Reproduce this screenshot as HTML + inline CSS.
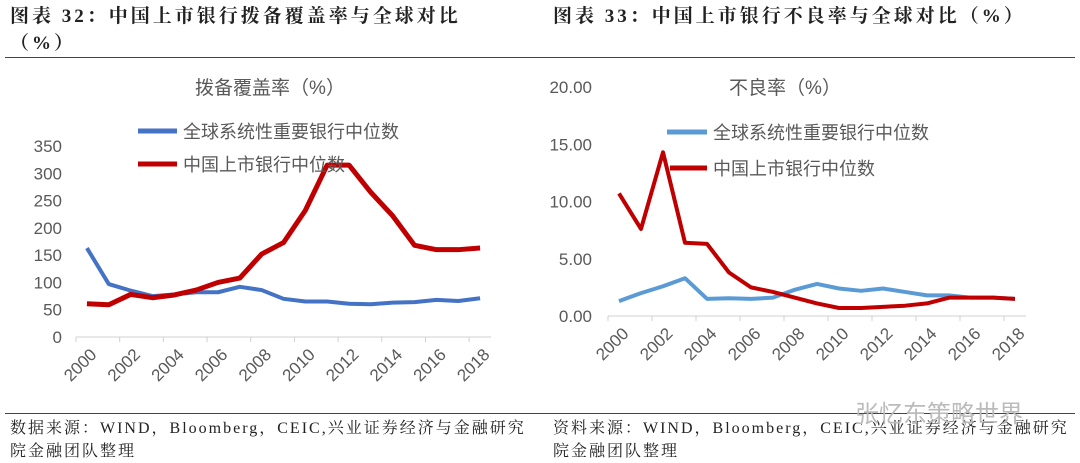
<!DOCTYPE html>
<html><head><meta charset="utf-8"><style>
body{margin:0;width:1080px;height:462px;background:#fff;overflow:hidden;font-family:"Liberation Serif","Noto Serif CJK SC",serif}
.h{position:absolute;font-weight:bold;font-size:19px;letter-spacing:3px;color:#222;font-family:"Liberation Serif","Noto Serif CJK SC",serif}
.f{position:absolute;font-size:16px;letter-spacing:2px;color:#222;line-height:23px}
svg{position:absolute;left:0;top:0}
</style></head><body>
<div class="h" style="left:10px;top:3px;line-height:27px">图表 32：中国上市银行拨备覆盖率与全球对比<br>（%）</div>
<div class="h" style="left:553px;top:3px;line-height:27px">图表 33：中国上市银行不良率与全球对比（%）</div>
<div style="position:absolute;left:5px;top:57px;width:1070px;height:1px;background:#444"></div>
<div style="position:absolute;left:5px;top:413px;width:1070px;height:1px;background:#444"></div>
<div class="f" style="left:10px;top:417px;width:540px">数据来源：WIND，Bloomberg，CEIC,兴业证券经济与金融研究<br>院金融团队整理</div>
<div class="f" style="left:553px;top:417px;width:527px">资料来源：WIND，Bloomberg，CEIC,兴业证券经济与金融研究<br>院金融团队整理</div>
<div style="position:absolute;left:855px;top:394px;font-size:24px;color:#bbb;font-family:'Liberation Sans','Noto Sans CJK SC',sans-serif">张忆东策略世界</div>
<svg width="1080" height="462" id="s"></svg>
<script>
const years=["2000","2001","2002","2003","2004","2005","2006","2007","2008","2009","2010","2011","2012","2013","2014","2015","2016","2017","2018"];
const covGlobal=[163,97,85,75,78,82,82,92,86,70,65,65,61,60,63,64,68,66,71];
const covChina=[61,59,78,72,77,86,100,108,152,173,232,315,315,265,222,168,160,160,163];
const covTicks=[0,50,100,150,200,250,300,350];
const npGlobal=[1.3,2.0,2.6,3.3,1.5,1.55,1.5,1.6,2.3,2.8,2.4,2.2,2.4,2.1,1.8,1.8,1.6,1.6,1.5];
const npChina=[10.7,7.6,14.3,6.4,6.3,3.8,2.5,2.1,1.6,1.1,0.7,0.7,0.8,0.9,1.1,1.6,1.6,1.6,1.5];
const npTicks=[0,5,10,15,20];
const NS="http://www.w3.org/2000/svg",svg=document.getElementById('s');
function mk(t,a,txt){const e=document.createElementNS(NS,t);for(const k in a)e.setAttribute(k,a[k]);if(txt!=null)e.textContent=txt;svg.appendChild(e);return e;}
function chart(o){
 const n=years.length,bw=(o.x1-o.x0)/n;
 const X=i=>o.x0+bw*(i+0.5),Y=v=>o.y0-(v-o.min)/(o.max-o.min)*(o.y0-o.y1);
 let e=mk('line',{x1:o.x0,x2:o.x1,y1:o.y0,y2:o.y0,stroke:'#d0d0d0','stroke-width':1});
 
 
 for(let i=0;i<=n;i+=2){e=mk('line',{x1:o.x0+bw*i,x2:o.x0+bw*i,y1:o.y0,y2:o.y0+5,stroke:'#d0d0d0'});
  
  }
 years.forEach((y,i)=>{if(i%2)return;const x=X(i)+5,yy=o.y0+13;
  e=mk('text',{x:x,y:yy+8,'text-anchor':'end','font-size':17,fill:'#595959','font-family':'Liberation Sans,sans-serif',transform:`rotate(-45 ${x} ${yy})`},y);
  
  });
 o.ticks.forEach(t=>{e=mk('text',{x:o.lx,y:Y(t)+6,'text-anchor':'end','font-size':17,fill:'#595959','font-family':'Liberation Sans,sans-serif'},o.fmt(t));
  
  });
 e=mk('text',{x:o.tx,y:94,'text-anchor':'middle','font-size':19,fill:'#595959','font-family':'Liberation Sans,Noto Sans CJK SC,sans-serif'},o.title);
 
 
 o.series.forEach(s=>{e=mk('polyline',{points:s.d.map((v,i)=>X(i)+','+Y(v)).join(' '),fill:'none',stroke:s.c,'stroke-width':s.w,'stroke-linejoin':'round'});
  
  
  e=mk('line',{x1:s.lx1,x2:s.lx2,y1:s.ly,y2:s.ly,stroke:s.c,'stroke-width':5});
  
  
  e=mk('text',{x:s.lx2+6,y:s.ly+7,'font-size':18,fill:'#595959','font-family':'Liberation Sans,Noto Sans CJK SC,sans-serif'},s.label);
  
  });
}
chart({p:'coverage',x0:76,x1:491,y0:337,y1:146,min:0,max:350,ticks:covTicks,fmt:t=>String(t),lx:62,tx:270,title:'拨备覆盖率（%）',
 series:[{n:'global',d:covGlobal,c:'#4472c4',w:4,lx1:138,lx2:177,ly:131,label:'全球系统性重要银行中位数'},
 {n:'china',d:covChina,c:'#c00000',w:5,lx1:138,lx2:177,ly:164,label:'中国上市银行中位数'}]});
chart({p:'npl',x0:608,x1:1026,y0:316,y1:87,min:0,max:20,ticks:npTicks,fmt:t=>t.toFixed(2),lx:592,tx:785,title:'不良率（%）',
 series:[{n:'global',d:npGlobal,c:'#5b9bd5',w:4,lx1:667,lx2:707,ly:132,label:'全球系统性重要银行中位数'},
 {n:'china',d:npChina,c:'#c00000',w:4,lx1:670,lx2:707,ly:168,label:'中国上市银行中位数'}]});
</script>
</body></html>
